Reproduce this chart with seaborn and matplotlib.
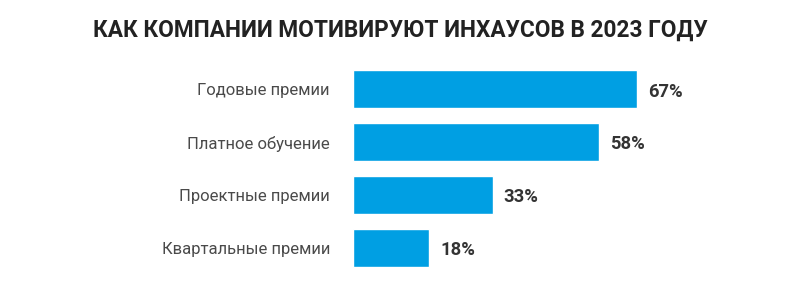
import matplotlib
matplotlib.use("Agg")
import matplotlib.pyplot as plt
import seaborn as sns
import pandas as pd

categories = ["Годовые премии", "Платное обучение", "Проектные премии", "Квартальные премии"]
values = [67, 58, 33, 18]
value_labels = ["67%", "58%", "33%", "18%"]
title = "КАК КОМПАНИИ МОТИВИРУЮТ ИНХАУСОВ В 2023 ГОДУ"

df = pd.DataFrame({"category": categories, "value": values})

sns.set_style("white")
plt.rcParams["font.family"] = ["Roboto", "DejaVu Sans"]

fig = plt.figure(figsize=(8, 3.06), dpi=100)
ax = fig.add_axes([0.441, 0.103, 0.53, 0.691])

sns.barplot(data=df, x="value", y="category", color="#009FE3", saturation=1,
            width=0.72, ax=ax)

for i, (v, lab) in enumerate(zip(values, value_labels)):
    ax.text(v + 2.6, i + 0.04, lab, va="center", ha="left", fontsize=13.2,
            fontweight="bold", color="#333333")

ax.set_xlim(0, 100)
ax.set_ylim(3.5, -0.5)
ax.set_xlabel("")
ax.set_ylabel("")
ax.set_xticks([])
ax.tick_params(axis="y", length=0, pad=16.5, labelsize=12, labelcolor="#4a4a4a")
sns.despine(ax=ax, left=True, bottom=True, top=True, right=True)

fig.text(0.5, 0.9, title, ha="center", va="center", fontsize=16.3,
         fontweight="bold", color="#222222",
         family=["Roboto", "DejaVu Sans"])

fig.savefig("out.png", dpi=100, facecolor="white")
